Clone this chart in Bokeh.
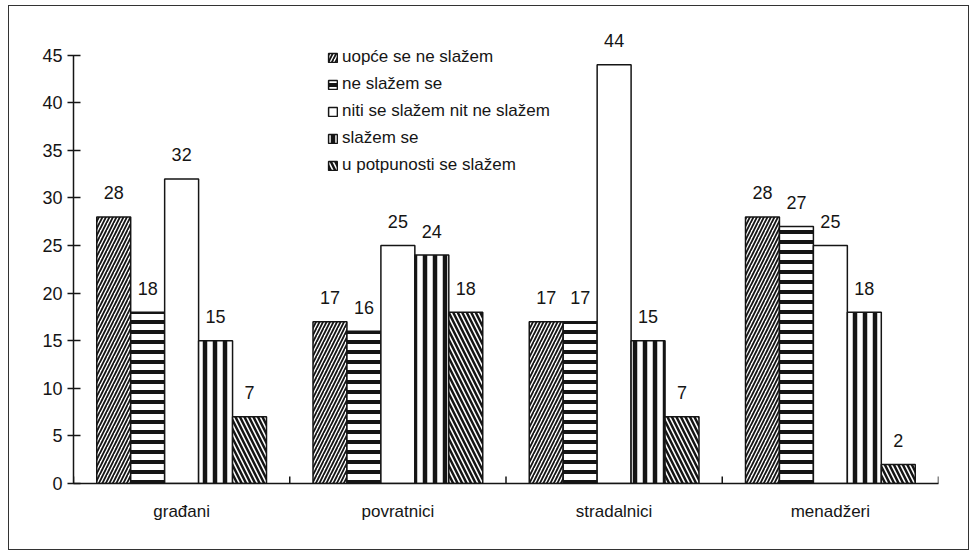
import math
from bokeh.plotting import figure
from bokeh.models import FactorRange, Legend, LegendItem, FixedTicker
from bokeh.transform import dodge
from bokeh.core.properties import value
from bokeh.embed import file_html
from bokeh.resources import INLINE

categories = ["građani", "povratnici", "stradalnici", "menadžeri"]
series_names = ["uopće se ne slažem", "ne slažem se", "niti se slažem nit ne slažem",
                "slažem se", "u potpunosti se slažem"]
s_uopce = [28, 17, 17, 28]
s_ne = [18, 16, 17, 27]
s_niti = [32, 25, 44, 25]
s_slazem = [15, 24, 15, 18]
s_potpuno = [7, 18, 7, 2]
y_ticks = [0, 5, 10, 15, 20, 25, 30, 35, 40, 45]
boundary_offsets = [-0.5, -0.5, -0.5, -0.5, 0.5]

series = [s_uopce, s_ne, s_niti, s_slazem, s_potpuno]
hatches = [("/", 7, 1.8), ("-", 10, 4.0), (" ", 10, 0), ("|", 10, 4.5), ("\\", 9, 2.5)]

FONT = "Liberation Sans"
INK = "#151515"

p = figure(x_range=FactorRange(factors=categories, range_padding=0),
           y_range=(0, 49.06), width=961, height=545,
           output_backend="svg", toolbar_location=None,
           min_border_left=64, min_border_right=32, min_border_top=10, min_border_bottom=68)
p.styles = {"border": "1px solid #333", "margin": "5px 0px 0px 8px"}
p.outline_line_color = None
p.xgrid.visible = False
p.ygrid.visible = False

bw = 0.157
items = []
for i, (vals, name, (hp, hs, hw)) in enumerate(zip(series, series_names, hatches)):
    off = (i - 2) * bw
    src = dict(cat=categories, v=vals, t=[str(v) for v in vals])
    r = p.vbar(x=dodge("cat", off, range=p.x_range), top="v", width=bw, bottom=0, source=src,
               fill_color="white", line_color=INK, line_width=1.5,
               hatch_pattern=hp, hatch_scale=hs, hatch_weight=hw, hatch_color=INK)
    p.text(x=dodge("cat", off, range=p.x_range), y="v", text="t", source=src,
           text_align="center", text_baseline="alphabetic", y_offset=-24,
           text_font=value(FONT), text_font_size="18px", text_color=INK)
    items.append(LegendItem(label=name, renderers=[r]))

# category boundary ticks on the x axis
bcats = categories + [categories[-1]]
for c, o in zip(bcats, boundary_offsets):
    p.scatter(x=dodge("cat", o, range=p.x_range), y="y", source=dict(cat=[c], y=[0]),
              marker="dash", angle=math.pi / 2, size=14, line_color=INK, line_width=1.5)

legend = Legend(items=items, location=(254, 308), background_fill_alpha=0,
                border_line_alpha=0, padding=0, margin=0, spacing=7,
                glyph_width=11, glyph_height=11, label_standoff=4, label_height=20,
                label_text_font=FONT, label_text_font_size="17px", label_text_color=INK)
p.add_layout(legend)

p.yaxis.ticker = FixedTicker(ticks=y_ticks)
p.yaxis.bounds = (0, 45)
p.yaxis.minor_tick_line_color = None
p.yaxis.major_tick_in = 7
p.yaxis.major_tick_out = 6
p.yaxis.axis_line_width = 1.5
p.yaxis.major_tick_line_width = 1.5
p.yaxis.axis_line_color = INK
p.yaxis.major_tick_line_color = INK
p.yaxis.major_label_standoff = 5
p.yaxis.major_label_text_font = FONT
p.yaxis.major_label_text_font_size = "18px"
p.yaxis.major_label_text_color = INK

p.xaxis.major_tick_in = 0
p.xaxis.major_tick_out = 0
p.xaxis.axis_line_width = 1.5
p.xaxis.axis_line_color = INK
p.xaxis.major_label_standoff = 18
p.xaxis.major_label_text_font = FONT
p.xaxis.major_label_text_font_size = "17px"
p.xaxis.major_label_text_color = INK

open("out.html", "w").write(file_html(p, INLINE))
